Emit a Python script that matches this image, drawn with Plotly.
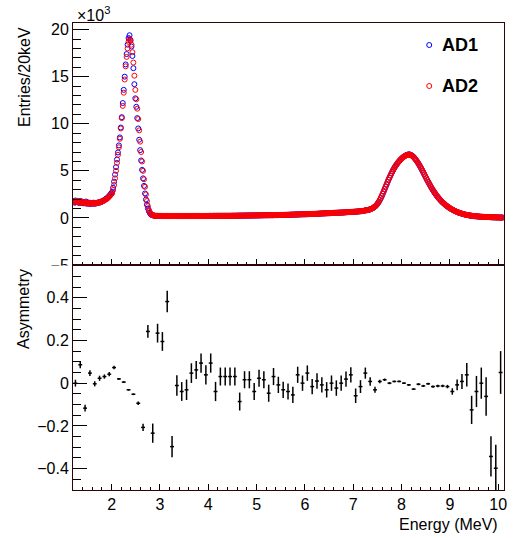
import plotly.graph_objects as go

# ---------------- data ----------------
# Top panel: spectra in 20 keV bins starting at 1.2 MeV (values in units of 10^3 entries)
spec_bin_low = 1.2
spec_bin_width = 0.02

ad1 = [
    1.78, 1.62, 1.85, 1.70, 1.66,  1.74, 1.58, 1.80, 1.62, 1.70,
    1.55, 1.68, 1.60, 1.74, 1.52,  1.64, 1.50, 1.58, 1.48, 1.60,
    1.52, 1.62, 1.50, 1.58, 1.55,  1.60, 1.66, 1.62, 1.72, 1.70,
    1.78, 1.84, 1.92, 1.96, 2.06,  2.12, 2.22, 2.34, 2.46, 2.60,
    2.75, 3.20, 3.85, 4.60, 5.40,  6.20, 6.95, 7.70, 8.55, 9.60,
    10.7, 12.2, 13.6, 15.0, 16.3,  17.4, 18.4, 19.1, 19.4, 18.9,
    18.2, 17.2, 15.9, 14.2, 12.7,  11.8, 10.6, 9.5, 8.3, 7.2,
    6.1, 5.1, 4.2, 3.4, 2.6,  1.95, 1.40, 1.00, 0.72, 0.52,
    0.38, 0.32, 0.28, 0.25, 0.23,  0.22, 0.22, 0.21, 0.21, 0.21,
    0.21, 0.21, 0.20, 0.21, 0.20,  0.20, 0.21, 0.20, 0.20, 0.21,
    0.20, 0.20, 0.21, 0.20, 0.20,  0.20, 0.21, 0.20, 0.20, 0.20,
    0.20, 0.20, 0.20, 0.21, 0.20,  0.20, 0.20, 0.21, 0.20, 0.20,
    0.21, 0.20, 0.20, 0.20, 0.21,  0.20, 0.21, 0.20, 0.21, 0.21,
    0.21, 0.21, 0.20, 0.21, 0.21,  0.21, 0.21, 0.21, 0.21, 0.21,
    0.21, 0.22, 0.21, 0.21, 0.22,  0.22, 0.21, 0.22, 0.22, 0.22,
    0.22, 0.22, 0.22, 0.22, 0.23,  0.22, 0.23, 0.23, 0.22, 0.23,
    0.23, 0.23, 0.23, 0.23, 0.23,  0.23, 0.24, 0.23, 0.24, 0.24,
    0.24, 0.24, 0.24, 0.24, 0.25,  0.24, 0.25, 0.25, 0.25, 0.25,
    0.25, 0.25, 0.26, 0.25, 0.26,  0.26, 0.26, 0.26, 0.26, 0.27,
    0.26, 0.27, 0.27, 0.27, 0.27,  0.27, 0.28, 0.28, 0.28, 0.28,
    0.28, 0.28, 0.29, 0.29, 0.29,  0.29, 0.29, 0.30, 0.30, 0.30,
    0.30, 0.30, 0.31, 0.31, 0.31,  0.31, 0.32, 0.32, 0.32, 0.33,
    0.33, 0.33, 0.33, 0.34, 0.34,  0.34, 0.35, 0.35, 0.35, 0.36,
    0.36, 0.36, 0.37, 0.37, 0.37,  0.38, 0.38, 0.38, 0.39, 0.39,
    0.39, 0.40, 0.40, 0.41, 0.41,  0.41, 0.42, 0.42, 0.43, 0.43,
    0.43, 0.44, 0.44, 0.45, 0.45,  0.46, 0.46, 0.47, 0.47, 0.48,
    0.48, 0.49, 0.49, 0.50, 0.50,  0.51, 0.51, 0.52, 0.52, 0.53,
    0.53, 0.54, 0.54, 0.55, 0.55,  0.56, 0.56, 0.57, 0.57, 0.58,
    0.58, 0.59, 0.60, 0.60, 0.61,  0.61, 0.62, 0.63, 0.63, 0.64,
    0.65, 0.66, 0.66, 0.67, 0.68,  0.69, 0.70, 0.71, 0.72, 0.73,
    0.74, 0.77, 0.80,  0.81, 0.83, 0.85, 0.88, 0.91,
    0.95, 1.00, 1.06, 1.13, 1.21,  1.30, 1.42, 1.56, 1.72, 1.90,
    2.10, 2.32, 2.55, 2.80, 3.05,  3.30, 3.55, 3.80, 4.05, 4.28,
    4.50, 4.72, 4.92, 5.12, 5.30,  5.47, 5.62, 5.76, 5.90, 6.02,
    6.14, 6.25, 6.35, 6.44, 6.52,  6.59, 6.65, 6.70, 6.73, 6.75,
    6.74, 6.70, 6.64, 6.56, 6.46,  6.34, 6.21, 6.07, 5.92, 5.76,
    5.59, 5.41, 5.22, 5.03, 4.83,  4.63, 4.43, 4.23, 4.03, 3.84,
    3.65, 3.46, 3.28, 3.11, 2.94,  2.78, 2.63, 2.48, 2.34, 2.21,
    2.08, 1.96, 1.85, 1.74, 1.64,  1.55, 1.46, 1.37, 1.29, 1.21,
    1.14, 1.07, 1.00, 0.94, 0.88,  0.82, 0.77, 0.72, 0.67, 0.63,
    0.59, 0.55, 0.51, 0.48, 0.45,  0.42, 0.39, 0.36, 0.34, 0.32,
    0.30, 0.28, 0.26, 0.24, 0.23,  0.21, 0.20, 0.19, 0.18, 0.17,
    0.16, 0.15, 0.14, 0.13, 0.12,  0.12, 0.11, 0.10, 0.10, 0.09,
    0.09, 0.08, 0.08, 0.07, 0.07,  0.07, 0.06, 0.06, 0.06, 0.05,
    0.05, 0.05, 0.05, 0.04, 0.04,  0.04, 0.04,
]

ad2 = [
    1.70, 1.80, 1.64, 1.76, 1.82,  1.66, 1.72, 1.60, 1.78, 1.64,
    1.70, 1.56, 1.66, 1.52, 1.62,  1.58, 1.54, 1.62, 1.52, 1.56,
    1.58, 1.50, 1.56, 1.54, 1.60,  1.58, 1.64, 1.68, 1.66, 1.74,
    1.76, 1.80, 1.88, 1.94, 2.00,  2.06, 2.16, 2.26, 2.38, 2.50,
    2.62, 2.95, 3.50, 4.20, 5.00,  5.85, 6.70, 7.50, 8.40, 9.50,
    10.6, 11.9, 13.3, 14.7, 16.1,  17.1, 18.0, 18.7, 19.0, 18.8,
    18.4, 17.6, 16.5, 15.1, 13.6,  12.6, 11.6, 10.5, 9.3, 8.1,
    7.0, 6.0, 5.0, 4.1, 3.3,  2.50, 1.80, 1.25, 0.85, 0.60,
    0.45, 0.34, 0.30, 0.26, 0.23,  0.22, 0.21, 0.22, 0.21, 0.21,
    0.21, 0.20, 0.21, 0.20, 0.21,  0.21, 0.20, 0.21, 0.20, 0.20,
    0.20, 0.21, 0.20, 0.20, 0.21,  0.21, 0.20, 0.20, 0.21, 0.20,
    0.20, 0.21, 0.20, 0.20, 0.20,  0.21, 0.20, 0.20, 0.21, 0.20,
    0.20, 0.21, 0.20, 0.21, 0.20,  0.21, 0.20, 0.21, 0.20, 0.21,
    0.20, 0.21, 0.21, 0.20, 0.21,  0.21, 0.20, 0.21, 0.21, 0.20,
    0.21, 0.21, 0.22, 0.21, 0.21,  0.22, 0.22, 0.21, 0.22, 0.22,
    0.22, 0.22, 0.22, 0.23, 0.22,  0.23, 0.22, 0.23, 0.23, 0.22,
    0.23, 0.23, 0.23, 0.23, 0.24,  0.24, 0.23, 0.24, 0.23, 0.24,
    0.24, 0.25, 0.24, 0.25, 0.24,  0.25, 0.25, 0.24, 0.25, 0.26,
    0.25, 0.26, 0.25, 0.26, 0.26,  0.26, 0.26, 0.27, 0.26, 0.26,
    0.27, 0.27, 0.26, 0.27, 0.28,  0.28, 0.27, 0.28, 0.28, 0.29,
    0.28, 0.29, 0.29, 0.28, 0.29,  0.30, 0.29, 0.30, 0.30, 0.31,
    0.30, 0.31, 0.31, 0.31, 0.32,  0.32, 0.31, 0.32, 0.33, 0.33,
    0.33, 0.34, 0.33, 0.34, 0.35,  0.35, 0.35, 0.36, 0.35, 0.36,
    0.36, 0.37, 0.36, 0.37, 0.38,  0.38, 0.38, 0.39, 0.39, 0.39,
    0.40, 0.40, 0.40, 0.41, 0.42,  0.41, 0.42, 0.43, 0.43, 0.43,
    0.44, 0.44, 0.44, 0.45, 0.46,  0.46, 0.47, 0.47, 0.48, 0.48,
    0.49, 0.49, 0.50, 0.50, 0.51,  0.51, 0.52, 0.52, 0.53, 0.53,
    0.54, 0.54, 0.55, 0.55, 0.56,  0.56, 0.57, 0.57, 0.58, 0.58,
    0.59, 0.59, 0.60, 0.61, 0.61,  0.62, 0.62, 0.63, 0.64, 0.64,
    0.65, 0.66, 0.67, 0.68, 0.68,  0.69, 0.71, 0.71, 0.72, 0.74,
    0.74, 0.77, 0.80,  0.82, 0.83, 0.86, 0.88, 0.92,
    0.96, 1.01, 1.06, 1.14, 1.22,  1.31, 1.43, 1.58, 1.73, 1.92,
    2.12, 2.34, 2.58, 2.82, 3.08,  3.33, 3.58, 3.82, 4.08, 4.30,
    4.52, 4.74, 4.95, 5.14, 5.32,  5.48, 5.64, 5.78, 5.91, 6.03,
    6.14, 6.25, 6.34, 6.43, 6.51,  6.58, 6.63, 6.67, 6.70, 6.72,
    6.71, 6.68, 6.62, 6.55, 6.45,  6.34, 6.22, 6.08, 5.93, 5.77,
    5.60, 5.42, 5.24, 5.04, 4.84,  4.64, 4.44, 4.24, 4.04, 3.85,
    3.66, 3.47, 3.29, 3.12, 2.95,  2.79, 2.64, 2.49, 2.35, 2.22,
    2.09, 1.97, 1.86, 1.75, 1.65,  1.56, 1.47, 1.38, 1.30, 1.22,
    1.15, 1.08, 1.01, 0.95, 0.89,  0.83, 0.77, 0.72, 0.68, 0.63,
    0.59, 0.55, 0.52, 0.48, 0.45,  0.42, 0.40, 0.37, 0.34, 0.32,
    0.30, 0.28, 0.26, 0.25, 0.23,  0.21, 0.20, 0.19, 0.18, 0.17,
    0.16, 0.15, 0.14, 0.13, 0.13,  0.12, 0.11, 0.10, 0.10, 0.09,
    0.09, 0.08, 0.08, 0.08, 0.07,  0.07, 0.06, 0.06, 0.06, 0.05,
    0.05, 0.05, 0.05, 0.04, 0.04,  0.04, 0.04,
]

# Bottom panel: asymmetry in 100 keV bins starting at 1.2 MeV
asym_bin_low = 1.2
asym_bin_width = 0.1
asym = [
    0.000, 0.086, -0.117, 0.047, -0.003, 0.023, 0.031, 0.042, 0.073, 0.020,
    0.005, -0.031, -0.052, -0.094, -0.207, 0.242, -0.234, 0.234, 0.195, 0.382,
    -0.297, -0.011, -0.039, -0.031, 0.047, 0.062, 0.094, 0.039, 0.094, -0.039,
    0.031, 0.031, 0.031, 0.031, -0.086, 0.016, 0.016, -0.039, 0.023, 0.016,
    -0.047, 0.031, -0.008, -0.031, -0.039, -0.055, 0.039, 0.000, 0.047, -0.016,
    0.010, -0.008, -0.031, 0.000, -0.023, 0.000, 0.019, 0.039, -0.059, -0.016,
    0.047, 0.008, -0.031, 0.008, 0.016, 0.000, 0.008, 0.008, 0.000, -0.008,
    -0.028, -0.005, -0.013, -0.003, -0.016, -0.013, -0.013, -0.016, -0.039, -0.008,
    0.008, 0.039, -0.125, -0.039, 0.000, -0.062, -0.343, -0.398, 0.050,
]
asym_err = [
    0.016, 0.016, 0.016, 0.014, 0.012, 0.012, 0.010, 0.010, 0.008, 0.004,
    0.004, 0.004, 0.004, 0.008, 0.017, 0.030, 0.045, 0.044, 0.044, 0.050,
    0.050, 0.048, 0.044, 0.048, 0.046, 0.042, 0.045, 0.045, 0.045, 0.045,
    0.042, 0.042, 0.042, 0.042, 0.042, 0.040, 0.040, 0.040, 0.040, 0.040,
    0.040, 0.040, 0.038, 0.038, 0.038, 0.038, 0.038, 0.036, 0.036, 0.036,
    0.036, 0.036, 0.036, 0.036, 0.036, 0.036, 0.036, 0.036, 0.034, 0.030,
    0.026, 0.020, 0.014, 0.008, 0.006, 0.005, 0.004, 0.004, 0.004, 0.004,
    0.004, 0.005, 0.005, 0.005, 0.005, 0.006, 0.006, 0.008, 0.015, 0.025,
    0.035, 0.055, 0.066, 0.073, 0.073, 0.090, 0.094, 0.110, 0.100,
]

series_names = ["AD1", "AD2"]
series_colors = ["#0000ff", "#ff0000"]

# ---------------- derived bin centres ----------------
spec_x = [spec_bin_low + spec_bin_width * (i + 0.5) for i in range(len(ad1))]
asym_x = [asym_bin_low + asym_bin_width * (i + 0.5) for i in range(len(asym))]

FONT = "Liberation Sans, Arial, Helvetica, sans-serif"
W, H = 513, 538
ML, MR, MT, MB = 73, 6, 23, 48
split = 225 / (H - MT - MB)
plot_w = W - ML - MR
plot_h = H - MT - MB

fig = go.Figure()

for vals, name, col in zip([ad1, ad2], series_names, series_colors):
    fig.add_trace(go.Scatter(
        x=spec_x, y=vals, mode="markers", name=name, showlegend=False,
        marker=dict(symbol="circle-open", size=5, color=col,
                    line=dict(width=1, color=col)),
        xaxis="x", yaxis="y",
    ))

fig.add_trace(go.Scatter(
    x=asym_x, y=asym, mode="markers", showlegend=False,
    marker=dict(size=1, color="black"),
    error_y=dict(type="data", array=asym_err, visible=True, color="black",
                 thickness=1.5, width=0),
    error_x=dict(type="constant", value=0.04, visible=True, color="black",
                 thickness=1.5, width=0),
    xaxis="x2", yaxis="y2",
))

linecol = "#2a0606"
common_x = dict(range=[1.2, 10.12], showgrid=False, zeroline=False,
                showline=True, mirror=True, linecolor=linecol, linewidth=1,
                ticks="inside", tickcolor="black", tick0=0, dtick=1,
                ticklen=6, tickwidth=1,
                minor=dict(ticks="inside", dtick=0.2, ticklen=3,
                           tickcolor="black", tickwidth=1, showgrid=False))

fig.update_layout(
    width=W, height=H,
    margin=dict(l=ML, r=MR, t=MT, b=MB),
    paper_bgcolor="white", plot_bgcolor="white",
    font=dict(family=FONT, size=16, color="black"),
    xaxis=dict(common_x, anchor="y", matches="x2", showticklabels=False),
    xaxis2=dict(common_x, anchor="y2", showticklabels=True,
                tickfont=dict(size=16)),
    yaxis=dict(domain=[split, 1], range=[-5, 20.7], showgrid=False,
               zeroline=False, showline=True, mirror=True,
               linecolor=linecol, linewidth=1, ticks="inside",
               tick0=0, dtick=5, ticklen=16, tickcolor="black",
               minor=dict(ticks="inside", dtick=1, ticklen=8,
                          tickcolor="black", showgrid=False),
               tickfont=dict(size=16), anchor="x"),
    yaxis2=dict(domain=[0, split], range=[-0.5, 0.553], showgrid=False,
                zeroline=False, showline=True, mirror=True,
                linecolor=linecol, linewidth=1, ticks="inside",
                tick0=0, dtick=0.2, ticklen=14, tickcolor="black",
                minor=dict(ticks="inside", dtick=0.05, ticklen=8,
                           tickcolor="black", showgrid=False),
                tickfont=dict(size=16), anchor="x2"),
)

# mask lower half of the clipped "-5" label like the reference pad boundary
fig.add_shape(type="rect", xref="paper", yref="paper", layer="above",
              x0=-ML / plot_w, x1=-2 / plot_w, y0=split - 12 / plot_h,
              y1=split - 0.5 / plot_h, fillcolor="white", line=dict(width=0))

anns = [
    dict(text="×10<sup>3</sup>", x=0, y=1, xref="paper", yref="paper",
         xanchor="left", yanchor="bottom", showarrow=False, xshift=2,
         yshift=-3, font=dict(size=16)),
    dict(text="Entries/20keV", x=0, y=1, xref="paper", yref="paper",
         xanchor="center", yanchor="top", textangle=-90, showarrow=False,
         xshift=-49, yshift=-2, font=dict(size=16)),
    dict(text="Asymmetry", x=0, y=split, xref="paper", yref="paper",
         xanchor="center", yanchor="top", textangle=-90, showarrow=False,
         xshift=-50, yshift=-2, font=dict(size=16)),
    dict(text="Energy (MeV)", x=1, y=0, xref="paper", yref="paper",
         xanchor="right", yanchor="middle", showarrow=False,
         xshift=-4, yshift=-34, font=dict(size=16)),
]
leg_y_px = [45, 86]
leg_marker_x_px = 431.7
leg_text_x_px = 442.5
for name, col, ypx in zip(series_names, series_colors, leg_y_px):
    py = (H - MB - ypx) / plot_h
    anns.append(dict(text="<b>%s</b>" % name, x=(leg_text_x_px - ML) / plot_w,
                     y=py, xref="paper", yref="paper", xanchor="left",
                     yanchor="middle", showarrow=False, font=dict(size=18)))
    fig.add_shape(type="circle", xref="paper", yref="paper",
                  xsizemode="pixel", ysizemode="pixel",
                  xanchor=(leg_marker_x_px - ML) / plot_w, yanchor=py,
                  x0=-2.5, x1=2.5, y0=-2.5, y1=2.5,
                  line=dict(color=col, width=1))
fig.update_layout(annotations=anns)

fig.write_html("out.html",
               config={"displayModeBar": False},
               post_script="document.body.style.margin='0';"
                           "document.body.style.overflow='hidden';")
